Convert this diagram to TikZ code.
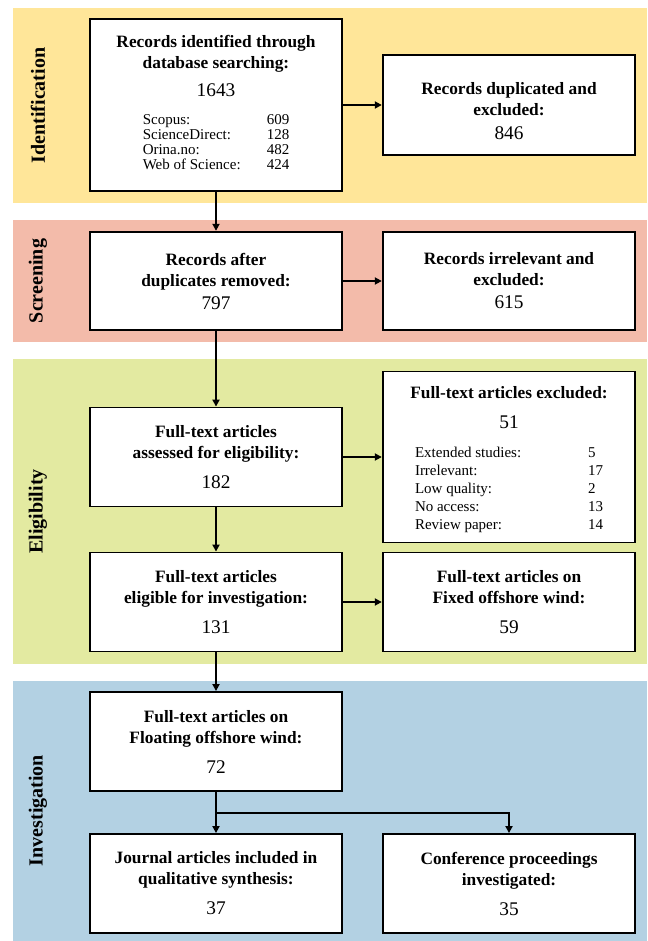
\documentclass[tikz,border=0pt]{standalone}
\usepackage{fontspec}
\setmainfont{Liberation Serif}
\usetikzlibrary{arrows.meta}
\definecolor{identcol}{HTML}{FFE699}
\definecolor{screencol}{HTML}{F3BBAA}
\definecolor{eligcol}{HTML}{E3EAA1}
\definecolor{investcol}{HTML}{B3D1E3}
\newcommand{\numtxt}[1]{{\fontsize{14.5}{17}\selectfont\mdseries #1}}
\newcommand{\listfontA}{\fontsize{11.25}{11.25}\selectfont\mdseries}
\newcommand{\listfontB}{\fontsize{11.25}{13.5}\selectfont\mdseries}

\begin{document}
\begin{tikzpicture}[x=0.75pt,y=-0.75pt,
  box/.style={draw,line width=1.4pt,fill=white,align=center,inner sep=0pt,
    minimum width=252.5*0.75pt,minimum height=99*0.75pt,
    font=\fontsize{13}{15.75}\selectfont\bfseries},
  phase/.style={rotate=90,inner sep=0pt,font=\fontsize{15}{18}\selectfont\bfseries},
  arr/.style={line width=1.4pt,-{Triangle[length=5.25pt,width=5.25pt]}}]
\useasboundingbox (0,0) rectangle (647,941);

\fill[identcol] (12.7,8) rectangle (647,203);
\fill[screencol] (12.7,220) rectangle (647,342);
\fill[eligcol] (12.7,359) rectangle (647,664);
\fill[investcol] (12.7,681) rectangle (647,941);

\node[phase] (identlab) at (38,105.5) {Identification};
\node[phase] (screenlab) at (38,281) {Screening};
\node[phase] (eliglab) at (38,511.5) {Eligibility};
\node[phase] (investlab) at (38,810.5) {Investigation};

\node[box,minimum height=172*0.75pt] (found) at (216,105)
  {Records identified through\\database searching:\\[5.25pt]\numtxt{1643}\\[5.25pt]
   {\listfontA\begin{tabular}[t]{@{}p{93pt}@{}l@{}}
   Scopus: & 609\\ ScienceDirect: & 128\\ Orina.no: & 482\\ Web of Science: & 424
   \end{tabular}}};
\node[box,minimum height=100*0.75pt] (dupl) at (509,105)
  {\rule{0pt}{17.8pt}Records duplicated and\\excluded:\\[2.25pt]\numtxt{846}};
\node[box,minimum height=98.5*0.75pt] (afterdup) at (216,281)
  {Records after\\duplicates removed:\\[1.5pt]\numtxt{797}};
\node[box,minimum height=98.5*0.75pt] (irrel) at (509,281)
  {Records irrelevant and\\excluded:\\[1.5pt]\numtxt{615}};
\node[box,minimum height=171*0.75pt] (ftexcl) at (509,457)
  {\rule{0pt}{14.8pt}Full-text articles excluded:\\[6.75pt]\numtxt{51}\\[6pt]
   {\listfontB\begin{tabular}[t]{@{}p{129.75pt}@{}l@{}}
   Extended studies: & 5\\ Irrelevant: & 17\\ Low quality: & 2\\ No access: & 13\\ Review paper: & 14
   \end{tabular}}};
\node[box] (assessed) at (216,457)
  {Full-text articles\\assessed for eligibility:\\[6.75pt]\numtxt{182}};
\node[box] (eligible) at (216,602)
  {Full-text articles\\eligible for investigation:\\[6.75pt]\numtxt{131}};
\node[box] (fixed) at (509,602)
  {Full-text articles on\\Fixed offshore wind:\\[6.75pt]\numtxt{59}};
\node[box] (floating) at (216,741.5)
  {Full-text articles on\\Floating offshore wind:\\[6.75pt]\numtxt{72}};
\node[box] (journal) at (216,883.5)
  {Journal articles included in\\qualitative synthesis:\\[6.75pt]\numtxt{37}};
\node[box] (confer) at (509,883.5)
  {Conference proceedings\\investigated:\\[6.75pt]\numtxt{35}};
\coordinate (split) at (216,813);

\draw[arr] (found) -- (dupl);
\draw[arr] (found) -- (afterdup);
\draw[arr] (afterdup) -- (irrel);
\draw[arr] (afterdup) -- (assessed);
\draw[arr] (assessed) -- (ftexcl);
\draw[arr] (assessed) -- (eligible);
\draw[arr] (eligible) -- (fixed);
\draw[arr] (eligible) -- (floating);
\draw[arr] (floating) -- (journal);
\draw[arr] (split) -| (confer);
\end{tikzpicture}
\end{document}
